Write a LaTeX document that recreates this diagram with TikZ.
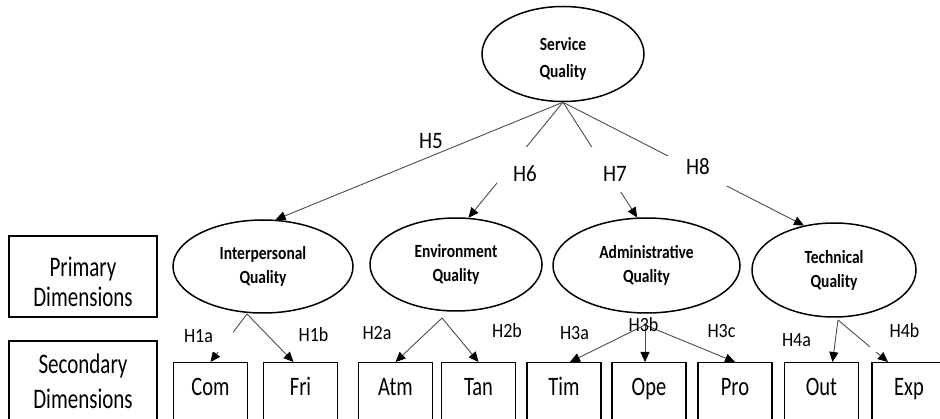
\documentclass[tikz,border=0pt]{standalone}
\usepackage{fontspec}
\setmainfont{Carlito}
\usepackage{graphicx}
\usetikzlibrary{arrows.meta,shapes.geometric}

\newcommand{\tall}[2][1.3]{\scalebox{1}[#1]{#2}}

\tikzset{
  dimq/.style={ellipse, draw, line width=1.5pt, inner sep=0pt, align=center,
    font=\bfseries\fontsize{15.5}{24}\selectfont},
  subbox/.style={draw, line width=1.4pt, minimum width=74pt, inner sep=0pt,
    text height=33pt, text depth=40pt, font=\fontsize{20.5}{24}\selectfont},
  legend/.style={draw, line width=1.4pt, minimum width=148pt},
  legendtext/.style={align=center, inner sep=0pt, font=\fontsize{21}{30}\selectfont},
  link/.style={draw=black!70, line width=0.9pt,
    -{Triangle[length=10pt,width=9pt,color=black]}},
  hyp/.style={fill=white, inner sep=0pt, anchor=base, font=\fontsize{21}{24}\selectfont},
  hypsub/.style={fill=white, inner sep=0pt, anchor=base, font=\fontsize{18}{20}\selectfont}
}

\begin{document}
\begin{tikzpicture}[x=1pt,y=-1pt]
\useasboundingbox (0,0) rectangle (940,419);
\clip (0,0) rectangle (940,419);

% legend on the left
\node[legend, minimum height=81pt] (prim) at (83,276.5) {};
\node[legend, minimum height=92pt] (sec) at (83,387) {};
\node[legendtext] (primtxt) at (83,282) {\tall[1.35]{Primary}\\\tall[1.35]{Dimensions}};
\node[legendtext] (sectxt) at (83,381) {\tall[1.35]{Secondary}\\[5pt]\tall[1.35]{Dimensions}};

% ellipses
\node[dimq, minimum width=162pt, minimum height=95pt] (sq) at (563,54) {\rule{0pt}{22pt}\tall[1.2]{Service}\\[3pt]\tall[1.2]{Quality}};
\node[dimq, minimum width=180pt, minimum height=93pt] (ip) at (263,266.5) {\tall[1.2]{Interpersonal}\\\tall[1.2]{Quality}};
\node[dimq, minimum width=172pt, minimum height=93pt] (env) at (456,264.5) {\tall[1.2]{Environment}\\\tall[1.2]{Quality}};
\node[dimq, minimum width=187pt, minimum height=95pt] (adm) at (646.5,265.5) {\tall[1.2]{Administrative}\\\tall[1.2]{Quality}};
\node[dimq, minimum width=164pt, minimum height=94pt] (tec) at (834,270) {\tall[1.2]{Technical}\\\tall[1.2]{Quality}};

% secondary boxes
\foreach \n/\t/\x in {com/Com/210.5, fri/Fri/300.5, atm/Atm/395.5, tan/Tan/478.5,
  tim/Tim/564, ope/Ope/649, pro/Pro/735, out/Out/821.5, exp/Exp/909}
  \node[subbox, anchor=north] (\n) at (\x,362) {\tall{\t}};

% meeting points under the ellipses
\coordinate (ipb) at (247,314);
\coordinate (envb) at (442,318);
\coordinate (admb) at (645,325);
\coordinate (tecb) at (838,320);

% hypotheses H5--H8
\draw[link] (sq.south) -- (ip.75);
\draw[link] (sq.south) -- (env.75);
\draw[link] (sq.south) -- (adm.101);
\draw[link] (sq.south) -- (tec.124);

% hypotheses H1--H4
\draw[link] (ipb) -- (com.north);
\draw[link] (ipb) -- ([xshift=-7pt]fri.north);
\draw[link] (envb) -- (atm.north);
\draw[link] (envb) -- (tan.north);
\draw[link] (admb) -- ([xshift=6pt]tim.north);
\draw[link] (admb) -- ([xshift=-4pt]ope.north);
\draw[link] (admb) -- (pro.north);
\draw[link] (tecb) -- ([xshift=11pt]out.north);
\draw[link] (tecb) -- ([xshift=-21pt]exp.north);

% labels
\node[hyp, fill=none] (h5) at (431,149) {\tall[1.12]{H5}};
\node[hyp, minimum width=56pt, text height=35pt, text depth=19pt] (h6) at (525,182) {\tall[1.12]{H6}};
\node[hyp, minimum width=48pt, text height=35pt, text depth=10pt] (h7) at (615,182) {\tall[1.12]{H7}};
\node[hyp, minimum width=60pt, text height=22pt, text depth=11pt] (h8) at (698,175) {\tall[1.12]{H8}};

\node[hypsub, minimum width=68pt, text height=16pt, text depth=9pt] (h1a) at (198.5,343) {\tall[1.12]{H1a}};
\node[hypsub, fill=none] (h1b) at (313.5,342) {\tall[1.12]{H1b}};
\node[hypsub, fill=none] (h2a) at (377,340) {\tall[1.12]{H2a}};
\node[hypsub, fill=none] (h2b) at (507,338) {\tall[1.12]{H2b}};
\node[hypsub, fill=none] (h3a) at (574.5,340) {\tall[1.12]{H3a}};
\node[hypsub, fill=none] (h3b) at (643.5,332) {\tall[1.12]{H3b}};
\node[hypsub, fill=none] (h3c) at (721.5,338) {\tall[1.12]{H3c}};
\node[hypsub, fill=none] (h4a) at (796.5,347) {\tall[1.12]{H4a}};
\node[hypsub, minimum width=69pt, text height=14pt, text depth=14pt] (h4b) at (904.5,338) {\tall[1.12]{H4b}};
\end{tikzpicture}
\end{document}
